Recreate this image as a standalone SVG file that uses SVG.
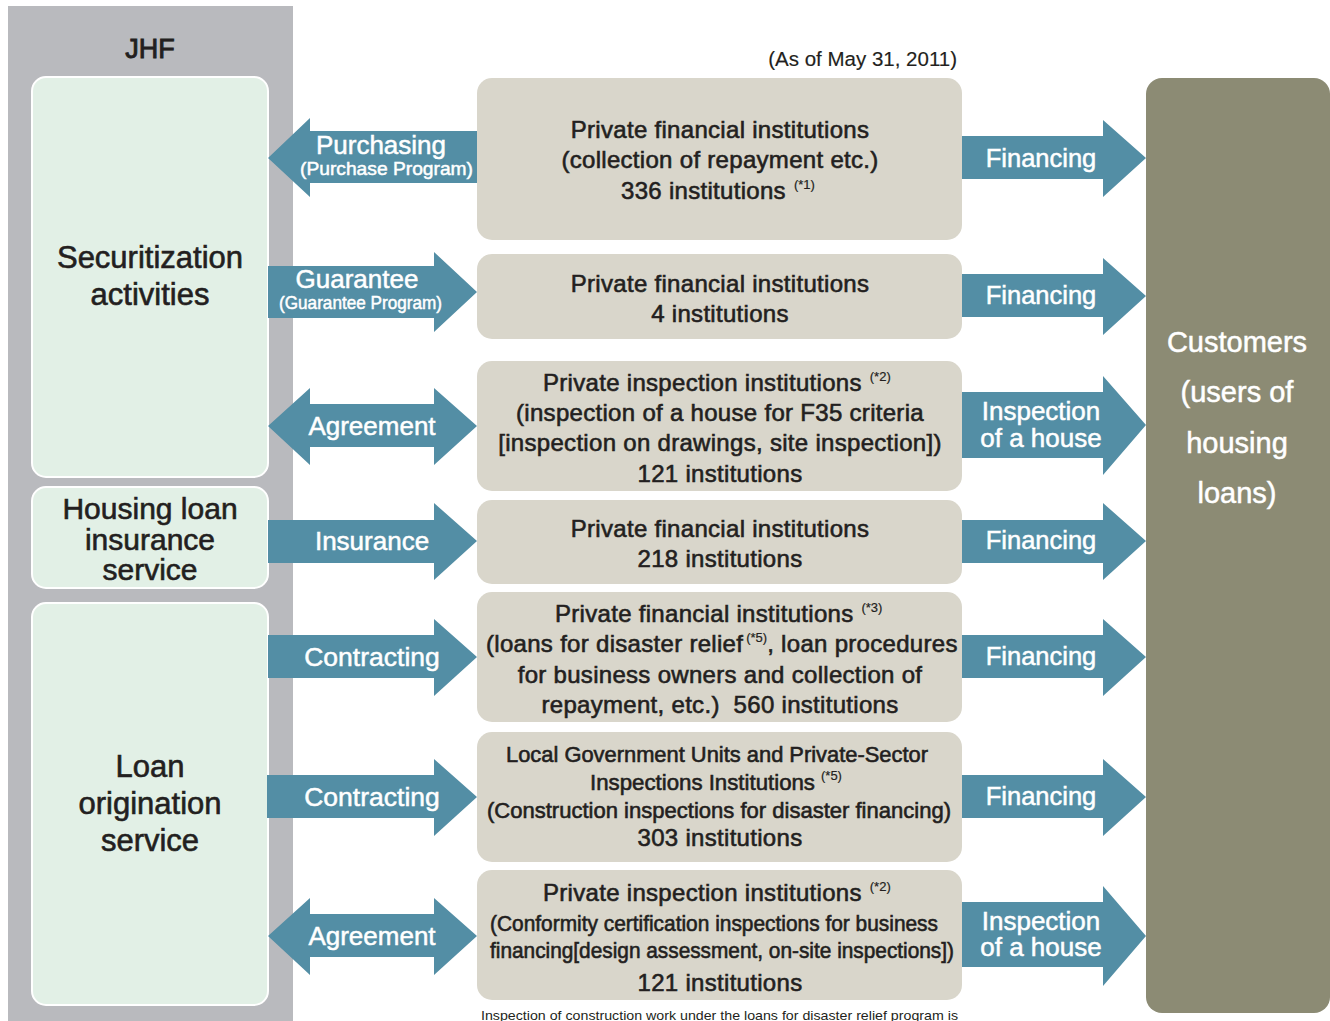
<svg xmlns="http://www.w3.org/2000/svg" width="1330" height="1021" viewBox="0 0 1330 1021">
<style>
.t{font-family:"Liberation Sans",Arial,sans-serif;fill:#231f20;stroke:#231f20;stroke-width:0.6;}
.w{font-family:"Liberation Sans",Arial,sans-serif;fill:#ffffff;stroke:#ffffff;stroke-width:0.5;}
.m{font-size:24px;letter-spacing:0.3px;}
.c{text-anchor:middle;}
.sup{font-size:13px;stroke-width:0.2;letter-spacing:0;}
.thin{stroke-width:0.15;}
.note{stroke-width:0;}
.arrow{fill:#538ea5;}
.green{fill:#e2f0e6;stroke:#ffffff;stroke-width:2;}
.mid{fill:#d9d6cb;}
</style>
<rect x="8" y="6" width="285" height="1015" fill="#b9babe"/>
<g id="jhf"><text class="t c" x="150" y="58" font-size="27" style="stroke-width:0.9">JHF</text></g>
<text class="t thin" x="957" y="66" font-size="20.5" text-anchor="end">(As of May 31, 2011)</text>

<g id="securitization">
<rect class="green" x="32" y="77" width="236" height="400" rx="14"/>
<text class="t c" x="150" y="268" font-size="31">Securitization</text>
<text class="t c" x="150" y="305" font-size="31">activities</text>
</g>
<g id="housing-loan-insurance">
<rect class="green" x="32" y="487" width="236" height="101" rx="14"/>
<text class="t c" x="150" y="519" font-size="30">Housing loan</text>
<text class="t c" x="150" y="550" font-size="30">insurance</text>
<text class="t c" x="150" y="580" font-size="30">service</text>
</g>
<g id="loan-origination">
<rect class="green" x="32" y="603" width="236" height="402" rx="14"/>
<text class="t c" x="150" y="777" font-size="31">Loan</text>
<text class="t c" x="150" y="814" font-size="31">origination</text>
<text class="t c" x="150" y="851" font-size="31">service</text>
</g>

<g id="box1">
<rect class="mid" x="477" y="78" width="485" height="162" rx="15"/>
<text class="t m c" x="720" y="138">Private financial institutions</text>
<text class="t m c" x="720" y="168">(collection of repayment etc.)</text>
<text class="t m" x="621" y="199">336 institutions <tspan class="sup" dx="1" dy="-10">(*1)</tspan></text>
</g>
<g id="box2">
<rect class="mid" x="477" y="254" width="485" height="85" rx="15"/>
<text class="t m c" x="720" y="292">Private financial institutions</text>
<text class="t m c" x="720" y="322">4 institutions</text>
</g>
<g id="box3">
<rect class="mid" x="477" y="361" width="485" height="130" rx="15"/>
<text class="t m" x="543" y="391">Private inspection institutions <tspan class="sup" dx="1" dy="-10">(*2)</tspan></text>
<text class="t m c" x="720" y="421">(inspection of a house for F35 criteria</text>
<text class="t m c" x="720" y="451">[inspection on drawings, site inspection])</text>
<text class="t m c" x="720" y="482">121 institutions</text>
</g>
<g id="box4">
<rect class="mid" x="477" y="500" width="485" height="84" rx="15"/>
<text class="t m c" x="720" y="537">Private financial institutions</text>
<text class="t m c" x="720" y="567">218 institutions</text>
</g>
<g id="box5">
<rect class="mid" x="477" y="592" width="485" height="130" rx="15"/>
<text class="t m" x="555" y="622">Private financial institutions <tspan class="sup" dx="1" dy="-10">(*3)</tspan></text>
<text class="t m" x="486" y="652">(loans for disaster relief<tspan class="sup" dx="3" dy="-10">(*5)</tspan><tspan dy="10">, loan procedures</tspan></text>
<text class="t m c" x="720" y="683">for business owners and collection of</text>
<text class="t m c" x="720" y="713" xml:space="preserve">repayment, etc.)  560 institutions</text>
</g>
<g id="box6">
<rect class="mid" x="477" y="732" width="485" height="130" rx="15"/>
<text class="t" x="506" y="762" font-size="22" textLength="422" lengthAdjust="spacingAndGlyphs">Local Government Units and Private-Sector</text>
<text class="t" x="590" y="790" font-size="22" textLength="225" lengthAdjust="spacingAndGlyphs">Inspections Institutions</text>
<text class="t sup" x="821" y="780">(*5)</text>
<text class="t" x="487" y="818" font-size="22" textLength="464" lengthAdjust="spacingAndGlyphs">(Construction inspections for disaster financing)</text>
<text class="t m c" x="720" y="846">303 institutions</text>
</g>
<g id="box7">
<rect class="mid" x="477" y="870" width="485" height="130" rx="15"/>
<text class="t m" x="543" y="901">Private inspection institutions <tspan class="sup" dx="1" dy="-10">(*2)</tspan></text>
<text class="t" x="490" y="931" font-size="22" textLength="448" lengthAdjust="spacingAndGlyphs">(Conformity certification inspections for business</text>
<text class="t" x="490" y="958" font-size="22" textLength="464" lengthAdjust="spacingAndGlyphs">financing[design assessment, on-site inspections])</text>
<text class="t m c" x="720" y="991">121 institutions</text>
</g>

<g id="customers">
<rect x="1146" y="78" width="184" height="935" rx="16" fill="#8c8b74"/>
<text class="w c" x="1237" y="352" font-size="29">Customers</text>
<text class="w c" x="1237" y="402" font-size="29">(users of</text>
<text class="w c" x="1237" y="453" font-size="29">housing</text>
<text class="w c" x="1237" y="503" font-size="29">loans)</text>
</g>

<g id="connectors">
<path class="arrow" d="M268,158 L310,118 L310,131 L477,131 L477,183 L310,183 L310,197 Z"/>
<path class="arrow" d="M268,266 L434,266 L434,252 L477,292 L434,332 L434,318 L268,318 Z"/>
<path class="arrow" d="M268,426 L310,388 L310,404 L434,404 L434,388 L477,426 L434,465 L434,447 L310,447 L310,465 Z"/>
<path class="arrow" d="M268,520 L434,520 L434,503 L477,541 L434,580 L434,563 L268,563 Z"/>
<path class="arrow" d="M268,635 L434,635 L434,619 L477,657 L434,696 L434,678 L268,678 Z"/>
<path class="arrow" d="M267,775 L434,775 L434,759 L477,797 L434,836 L434,818 L267,818 Z"/>
<path class="arrow" d="M268,936 L310,898 L310,914 L434,914 L434,898 L477,936 L434,975 L434,957 L310,957 L310,975 Z"/>

<path class="arrow" d="M962,136 L1103,136 L1103,120 L1146,158 L1103,197 L1103,179 L962,179 Z"/>
<path class="arrow" d="M962,274 L1103,274 L1103,258 L1146,296 L1103,335 L1103,317 L962,317 Z"/>
<path class="arrow" d="M962,392 L1103,392 L1103,376 L1146,425 L1103,475 L1103,458 L962,458 Z"/>
<path class="arrow" d="M962,520 L1103,520 L1103,503 L1146,541 L1103,580 L1103,563 L962,563 Z"/>
<path class="arrow" d="M962,635 L1103,635 L1103,619 L1146,657 L1103,696 L1103,678 L962,678 Z"/>
<path class="arrow" d="M962,775 L1103,775 L1103,759 L1146,797 L1103,836 L1103,818 L962,818 Z"/>
<path class="arrow" d="M962,902 L1103,902 L1103,886 L1146,936 L1103,986 L1103,967 L962,967 Z"/>

<text class="w c" x="381" y="154" font-size="26">Purchasing</text>
<text class="w" x="300" y="175" font-size="19" textLength="173" lengthAdjust="spacingAndGlyphs">(Purchase Program)</text>
<text class="w c" x="357" y="288" font-size="26">Guarantee</text>
<text class="w" x="279" y="309" font-size="19" textLength="163" lengthAdjust="spacingAndGlyphs">(Guarantee Program)</text>
<text class="w c" x="372" y="435" font-size="26">Agreement</text>
<text class="w c" x="372" y="550" font-size="26">Insurance</text>
<text class="w c" x="372" y="666" font-size="26.5">Contracting</text>
<text class="w c" x="372" y="806" font-size="26.5">Contracting</text>
<text class="w c" x="372" y="945" font-size="26">Agreement</text>

<text class="w c" x="1041" y="167" font-size="25.5">Financing</text>
<text class="w c" x="1041" y="304" font-size="25.5">Financing</text>
<text class="w c" x="1041" y="420" font-size="26">Inspection</text>
<text class="w c" x="1041" y="447" font-size="26">of a house</text>
<text class="w c" x="1041" y="549" font-size="25.5">Financing</text>
<text class="w c" x="1041" y="665" font-size="25.5">Financing</text>
<text class="w c" x="1041" y="805" font-size="25.5">Financing</text>
<text class="w c" x="1041" y="930" font-size="26">Inspection</text>
<text class="w c" x="1041" y="956" font-size="26">of a house</text>
</g>

<text class="t note" x="481" y="1020" font-size="13.5" textLength="477" lengthAdjust="spacingAndGlyphs">Inspection of construction work under the loans for disaster relief program is</text>
</svg>
